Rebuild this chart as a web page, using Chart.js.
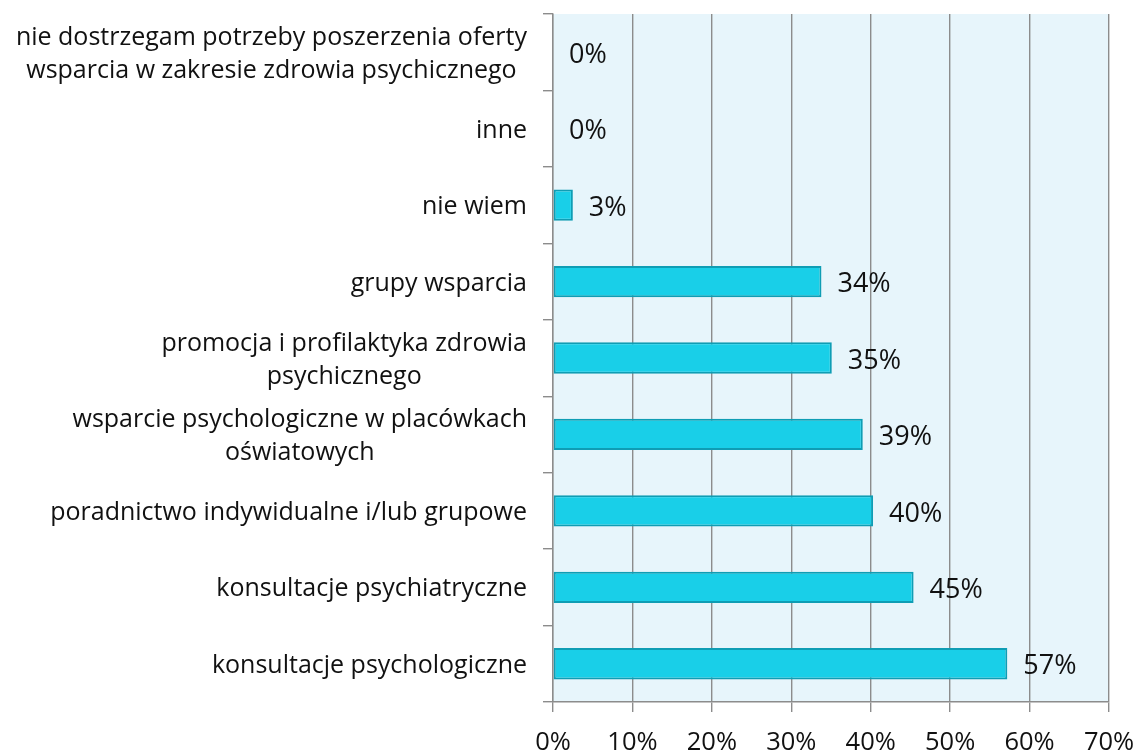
<!DOCTYPE html>
<html>
<head>
<meta charset="utf-8">
<script src="https://cdn.jsdelivr.net/npm/chart.js@4/dist/chart.umd.min.js"></script>
<style>
  html, body { margin: 0; padding: 0; background: #ffffff; }
  #wrap { width: 1137px; height: 751px; position: relative; }
</style>
</head>
<body>
<div id="wrap"><canvas id="c"></canvas></div>
<script>
const categories = [
  ["nie dostrzegam potrzeby poszerzenia oferty", "wsparcia w zakresie zdrowia psychicznego"],
  ["inne"],
  ["nie wiem"],
  ["grupy wsparcia"],
  ["promocja i profilaktyka zdrowia", "psychicznego"],
  ["wsparcie psychologiczne w placówkach", "oświatowych"],
  ["poradnictwo indywidualne i/lub grupowe"],
  ["konsultacje psychiatryczne"],
  ["konsultacje psychologiczne"]
];
const values = [0, 0, 2.5, 33.8, 35.1, 39.0, 40.3, 45.4, 57.2];
const xTicks = [0, 10, 20, 30, 40, 50, 60, 70];

const FONT = '"Open Sans", "Noto Sans", sans-serif';
const LABEL_SIZE = 25;
const VALUE_SIZE = 27;
const TICK_SIZE = 25.5;

const bgPlugin = {
  id: 'bg',
  beforeDraw(chart) {
    const { ctx, chartArea: a } = chart;
    ctx.save();
    ctx.fillStyle = '#e7f5fb';
    ctx.fillRect(a.left, a.top, a.right - a.left, a.bottom - a.top);
    ctx.restore();
  }
};

const labelsPlugin = {
  id: 'catLabels',
  afterDraw(chart) {
    const { ctx } = chart;
    const y = chart.scales.y;
    const rightEdge = y.right - 26;
    const lh = 33;
    ctx.save();
    ctx.font = LABEL_SIZE + 'px ' + FONT;
    ctx.fillStyle = '#111111';
    ctx.textBaseline = 'middle';
    ctx.textAlign = 'center';
    categories.forEach((lines, i) => {
      const cy = y.getPixelForValue(i) + 2;
      const w = Math.max(...lines.map(l => ctx.measureText(l).width));
      const cx = rightEdge - w / 2;
      const y0 = cy - (lines.length - 1) * lh / 2;
      lines.forEach((l, k) => ctx.fillText(l, cx, y0 + k * lh));
    });
    // value labels
    ctx.font = VALUE_SIZE + 'px ' + FONT;
    ctx.textAlign = 'left';
    const meta = chart.getDatasetMeta(0);
    meta.data.forEach((bar, i) => {
      ctx.fillText(Math.round(values[i]) + '%', bar.x + 16, bar.y + 3);
    });
    ctx.restore();
  }
};

new Chart(document.getElementById('c'), {
  type: 'bar',
  data: {
    labels: categories.map(l => l.join(' ')),
    datasets: [{
      data: values,
      backgroundColor: '#19cfe8',
      borderColor: '#0f9db4',
      borderWidth: 2,
      borderSkipped: false,
      barPercentage: 0.82,
      categoryPercentage: 0.5
    }]
  },
  options: {
    indexAxis: 'y',
    responsive: true,
    maintainAspectRatio: false,
    animation: false,
    devicePixelRatio: 1,
    layout: { padding: { top: 14, right: 28, left: 0, bottom: 0 } },
    plugins: { legend: { display: false }, tooltip: { enabled: false } },
    scales: {
      x: {
        min: 0, max: 70,
        afterBuildTicks(s) { s.ticks = xTicks.map(v => ({ value: v })); },
        afterFit(s) { s.height = 49; s.paddingLeft = 0; s.paddingRight = 0; },
        ticks: {
          callback: v => v + '%',
          font: { family: FONT, size: TICK_SIZE },
          color: '#111111',
          padding: 15,
          maxRotation: 0
        },
        grid: { color: '#8c8c8c', lineWidth: 1.4, tickLength: 10, drawTicks: true },
        border: { display: true, color: '#8c8c8c', width: 1.4 }
      },
      y: {
        afterFit(s) { s.width = 553; s.paddingTop = 0; s.paddingBottom = 0; },
        ticks: { display: false },
        grid: { drawOnChartArea: false, drawTicks: true, tickLength: 10, color: '#8c8c8c', lineWidth: 1.4, offset: true },
        border: { display: true, color: '#8c8c8c', width: 1.4 }
      }
    }
  },
  plugins: [bgPlugin, labelsPlugin]
});
</script>
</body>
</html>
